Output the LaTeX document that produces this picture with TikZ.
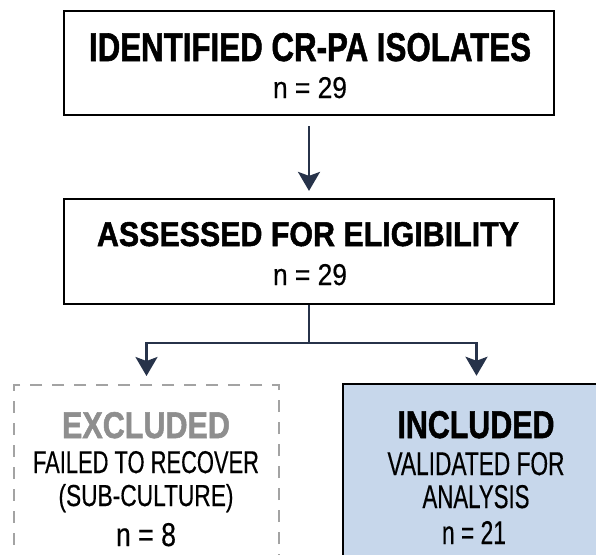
\documentclass[tikz,border=0pt]{standalone}
\usepackage{fontspec}
\usepackage{graphicx}
\setmainfont{Liberation Sans}[UprightFeatures={FakeBold=0.5},BoldFeatures={FakeBold=1.5}]
\usetikzlibrary{arrows.meta}
\definecolor{arrowc}{HTML}{27334A}
\definecolor{exgrey}{HTML}{8E8E8E}
\definecolor{dashgrey}{HTML}{A3A3A3}
\definecolor{incfill}{HTML}{C7D7EB}
\newcommand\fitt[3]{\resizebox{#1pt}{#2pt}{#3}}
\begin{document}
\begin{tikzpicture}[x=1pt,y=-1pt,
  box/.style={draw=black,line width=2.2pt,rectangle,inner sep=0pt},
  exbox/.style={draw=dashgrey,line width=2pt,dash pattern=on 12pt off 10pt,rectangle,inner sep=0pt},
  incbox/.style={draw=black,line width=2.5pt,fill=incfill,rectangle,inner sep=0pt},
  txt/.style={inner sep=0pt,anchor=base},
  conn/.style={draw=arrowc,line width=2.6pt},
  arr/.style={conn,-{Stealth[length=19pt,width=22pt,inset=4pt]}}]
\useasboundingbox (0,0) rectangle (596,554);
\fill[white] (0,0) rectangle (596,554);
\clip (0,0) rectangle (596,554);
% boxes
\node[box,minimum width=490pt,minimum height=104pt] (top) at (309,63) {};
\node[box,minimum width=490pt,minimum height=105pt] (mid) at (309,251.5) {};
\node[exbox,minimum width=265pt,minimum height=180pt] (exc) at (146.5,475) {};
\node[incbox,minimum width=267pt,minimum height=181pt] (inc) at (476.5,474.5) {};
% texts
\node[txt] (t1) at (310,61) {\fitt{442}{28}{\bfseries IDENTIFIED CR-PA ISOLATES}};
\node[txt] (n1) at (310,98) {\fitt{74}{21}{n = 29}};
\node[txt] (t2) at (308,246) {\fitt{422}{24}{\bfseries ASSESSED FOR ELIGIBILITY}};
\node[txt] (n2) at (310,285) {\fitt{74}{21}{n = 29}};
\node[txt,text=exgrey] (t3) at (146,438) {\fitt{168}{26}{\bfseries EXCLUDED}};
\node[txt] (t4) at (146,473) {\fitt{226}{22}{FAILED TO RECOVER}};
\node[txt] (t5) at (146,506) {\fitt{175}{22}{(SUB-CULTURE)}};
\node[txt] (n3) at (146,546) {\fitt{60}{23}{n = 8}};
\node[txt] (t6) at (476,438) {\fitt{157}{27}{\bfseries INCLUDED}};
\node[txt] (t7) at (476,475) {\fitt{177}{23}{VALIDATED FOR}};
\node[txt] (t8) at (476,508) {\fitt{107}{23}{ANALYSIS}};
\node[txt] (n4) at (474,544) {\fitt{64}{23}{n = 21}};
% connectors
\coordinate (split) at (309,343);
\draw[arr,shorten <=10pt,shorten >=7pt] (top.south) -- (mid.north);
\draw[conn] (mid.south) -- (split);
\draw[arr,shorten >=8pt] (split) -| (exc.north);
\draw[arr,shorten >=7pt] (split) -| (inc.north);
\end{tikzpicture}
\end{document}
